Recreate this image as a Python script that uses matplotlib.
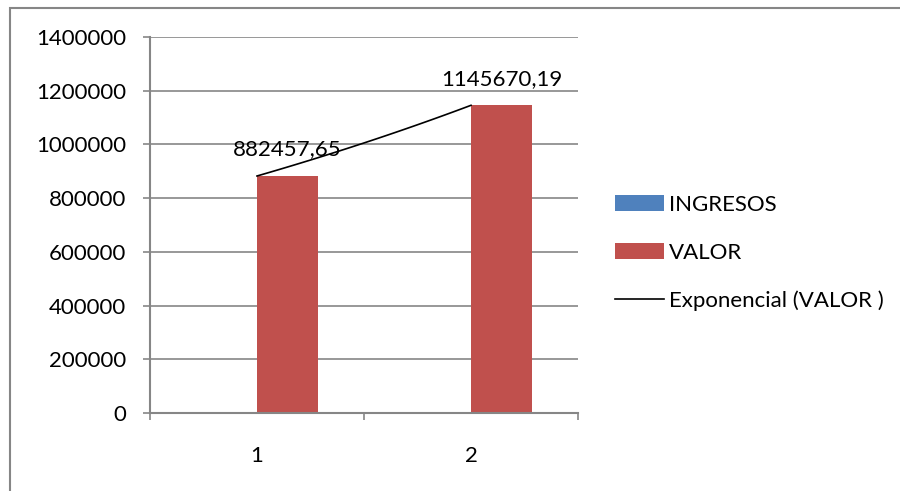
import numpy as np
import matplotlib
matplotlib.use("Agg")
import matplotlib.pyplot as plt
from matplotlib.patches import Rectangle

plt.rcParams["font.family"] = ["Lato", "DejaVu Sans"]

# datos
categorias = [1, 2]
ingresos = [0, 0]
valor = [882457.65, 1145670.19]
etiquetas_valor = ["882457,65", "1145670,19"]
y_ticks = [0, 200000, 400000, 600000, 800000, 1000000, 1200000, 1400000]

AZUL = "#4F81BD"
ROJO = "#C0504D"
GRIS = "#868686"
FS = 16

fig = plt.figure(figsize=(9, 4.91), dpi=100)
ax = fig.add_axes([150 / 900, 1 - 413 / 491, 428 / 900, 376 / 491])

x = np.array(categorias, dtype=float)
w = 0.285
h1 = ax.bar(x - w / 2, ingresos, width=w, color=AZUL, label="INGRESOS")
bars = ax.bar(x + w / 2, valor, width=w, color=ROJO, label="VALOR")

# linea de tendencia exponencial (ajuste sobre VALOR)
b, ln_a = np.polyfit(x, np.log(valor), 1)
xs = np.linspace(x[0], x[-1], 60)
linea, = ax.plot(xs, np.exp(ln_a) * np.exp(b * xs), color="black", lw=1.2,
                 label="Exponencial (VALOR )")

for bar, txt in zip(bars, etiquetas_valor):
    ax.annotate(txt,
                xy=(bar.get_x() + bar.get_width() / 2, bar.get_height()),
                xytext=(0, 12), textcoords="offset points",
                ha="center", va="bottom", fontsize=FS)

ax.set_xlim(0.5, 2.5)
ax.set_ylim(0, 1400000)
ax.set_yticks(y_ticks)
ax.set_yticklabels([str(v) for v in y_ticks])

ax.set_xticks([0.5, 1.5, 2.5])
ax.set_xticklabels([])
ax.set_xticks(categorias, minor=True)
ax.set_xticklabels([str(c) for c in categorias], minor=True)
ax.tick_params(axis="x", which="major", direction="out", length=5, color=GRIS, width=1.2)
ax.tick_params(axis="x", which="minor", length=0, pad=24, labelsize=FS)
ax.tick_params(axis="y", direction="out", length=5, color=GRIS, width=1.2,
               labelsize=FS, pad=12)

ax.grid(axis="y", color=GRIS, lw=1.2)
ax.set_axisbelow(True)
for s in ["top", "right"]:
    ax.spines[s].set_visible(False)
for s in ["left", "bottom"]:
    ax.spines[s].set_color(GRIS)
    ax.spines[s].set_linewidth(1.5)

fig.legend(handles=[h1, bars, linea], loc="center left",
           bbox_to_anchor=(0.661, 1 - 253 / 491),
           frameon=False, fontsize=FS, handlelength=2.2, handletextpad=0.25,
           labelspacing=1.25)

# borde del grafico
fig.patches.append(Rectangle((9.5 / 900, -0.1), 1.2, 1.1 - 7.5 / 491,
                             transform=fig.transFigure, fill=False,
                             edgecolor=GRIS, lw=1.5))

fig.savefig("out.png", dpi=100)
